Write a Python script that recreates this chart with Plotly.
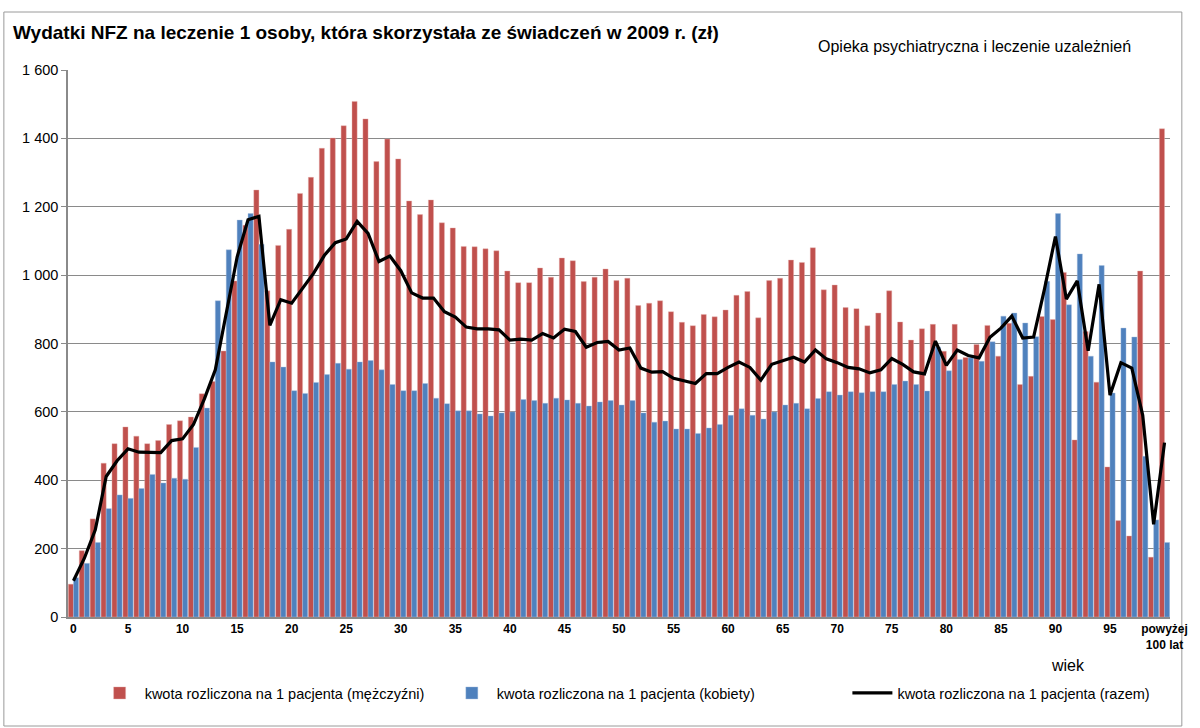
import plotly.graph_objects as go

categories = [str(i) for i in range(100)] + ["powyżej 100 lat"]

men = [96, 194, 287, 450, 507, 556, 529, 507, 516, 563,
       574, 585, 653, 689, 778, 983, 1146, 1249, 954, 1087,
       1134, 1239, 1286, 1371, 1401, 1437, 1508, 1457, 1332, 1398,
       1340, 1217, 1177, 1220, 1153, 1138, 1084, 1083, 1077, 1071,
       1012, 978, 978, 1021, 994, 1050, 1042, 981, 994, 1018,
       984, 991, 911, 918, 925, 893, 862, 852, 885, 878,
       898, 941, 952, 875, 984, 991, 1044, 1037, 1080, 957,
       971, 905, 902, 852, 889, 954, 863, 810, 843, 856,
       777, 856, 759, 797, 853, 763, 859, 680, 704, 879,
       870, 1008, 518, 835, 687, 439, 282, 237, 1012, 175,
       1428]

women = [115, 157, 218, 317, 357, 347, 376, 417, 392, 406,
         403, 496, 611, 925, 1074, 1161, 1180, 1090, 746, 731,
         662, 654, 686, 709, 742, 725, 746, 750, 723, 680,
         662, 662, 683, 640, 624, 603, 603, 594, 588, 597,
         600, 636, 633, 625, 640, 635, 625, 617, 629, 633,
         620, 633, 597, 570, 573, 550, 550, 537, 553, 563,
         590, 609, 590, 579, 600, 620, 625, 609, 639, 659,
         649, 659, 656, 659, 659, 680, 690, 680, 661, 790,
         720, 753, 758, 748, 805, 880, 889, 860, 820, 982,
         1180, 913, 1062, 763, 1028, 655, 845, 819, 470, 284,
         218]

total = [106, 172, 255, 411, 457, 492, 482, 481, 481, 516,
         521, 563, 638, 723, 893, 1053, 1162, 1172, 853, 928,
         918, 962, 1005, 1058, 1095, 1106, 1157, 1122, 1040, 1056,
         1013, 948, 933, 933, 893, 877, 848, 843, 843, 840,
         810, 813, 810, 829, 816, 842, 835, 789, 803, 806,
         781, 787, 728, 716, 718, 698, 691, 683, 712, 712,
         730, 746, 730, 693, 739, 750, 760, 746, 781, 755,
         744, 730, 726, 714, 723, 756, 739, 717, 711, 807,
         736, 781, 765, 758, 818, 845, 880, 816, 819, 960,
         1113, 930, 983, 779, 973, 649, 744, 728, 590, 271,
         510]

tick_vals = [str(i) for i in range(0, 100, 5)] + ["powyżej 100 lat"]
tick_text = [str(i) for i in range(0, 100, 5)] + ["powyżej<br>100 lat"]

name_men = "kwota rozliczona na 1 pacjenta (mężczyźni)"
name_women = "kwota rozliczona na 1 pacjenta (kobiety)"
name_total = "kwota rozliczona na 1 pacjenta (razem)"

RED = "#C0504D"
BLUE = "#4F81BD"
FONT = "Liberation Sans, Arial, sans-serif"

fig = go.Figure()
fig.add_trace(go.Bar(x=categories, y=men, name=name_men, legend="legend", showlegend=True,
                     marker=dict(color=RED, line=dict(color="#E6B0AE", width=0.4))))
fig.add_trace(go.Bar(x=categories, y=women, name=name_women, legend="legend2", showlegend=True,
                     marker=dict(color=BLUE, line=dict(color="#A9C1E0", width=0.4))))
fig.add_trace(go.Scatter(x=categories, y=total, name=name_total, legend="legend3", showlegend=True,
                         mode="lines", line=dict(color="black", width=3.2)))

L, R, T, B = 68, 15, 70, 111
W, H = 1200, 728
pw = W - L - R
ph = H - T - B

def px(x):
    return (x - L) / pw

def py(y):
    return (H - B - y) / ph

legend_common = dict(orientation="h", yanchor="middle", xanchor="left",
                     font=dict(family=FONT, size=14.5, color="#000"),
                     bgcolor="rgba(0,0,0,0)", itemwidth=40, visible=True)

fig.update_layout(
    width=W, height=H,
    margin=dict(l=L, r=R, t=T, b=B),
    paper_bgcolor="white", plot_bgcolor="white",
    separators=", ",
    showlegend=True,
    barmode="group", bargap=0.06, bargroupgap=0.0,
    font=dict(family=FONT, size=13, color="#000"),
    legend=dict(x=px(95), y=py(693), **legend_common),
    legend2=dict(x=px(452), y=py(693), **legend_common),
    legend3=dict(x=px(858), y=py(693), **legend_common),
    xaxis=dict(type="category", tickmode="array", tickvals=tick_vals, ticktext=tick_text,
               tickfont=dict(family=FONT, size=12, color="#000", weight="bold"),
               showgrid=False, showline=True, linecolor="#8a8a8a", linewidth=2,
               ticks="", tickangle=0, range=[-0.5, 100.5]),
    yaxis=dict(range=[0, 1600], dtick=200, tickformat=",d",
               showgrid=True, gridcolor="#8a8a8a", gridwidth=1,
               showline=True, linecolor="#8a8a8a", linewidth=1.5,
               ticks="outside", ticklen=5, tickcolor="#8a8a8a",
               tickfont=dict(family=FONT, size=14.5, color="#000"), zeroline=False),
    annotations=[
        dict(text="<b>Wydatki NFZ na leczenie 1 osoby, która skorzystała ze świadczeń w 2009 r. (zł)</b>",
             x=px(10), y=py(32), xref="paper", yref="paper", xanchor="left", yanchor="middle",
             showarrow=False, font=dict(family=FONT, size=19, color="#000")),
        dict(text="Opieka psychiatryczna i leczenie uzależnień",
             x=px(826), y=py(47), xref="paper", yref="paper", xanchor="left", yanchor="middle",
             showarrow=False, font=dict(family=FONT, size=16, color="#000")),
        dict(text="wiek", x=px(1082), y=py(665), xref="paper", yref="paper",
             xanchor="center", yanchor="middle", showarrow=False,
             font=dict(family=FONT, size=16, color="#000")),
    ],
    shapes=[
        dict(type="rect", xref="paper", yref="paper",
             x0=px(3), x1=px(1197), y0=py(726), y1=py(12),
             line=dict(color="#9a9a9a", width=1), fillcolor="rgba(0,0,0,0)", layer="below"),
    ],
)

fig.write_html("out.html", config={"displayModeBar": False},
               post_script="document.body.style.margin='0';document.body.style.padding='0';")
